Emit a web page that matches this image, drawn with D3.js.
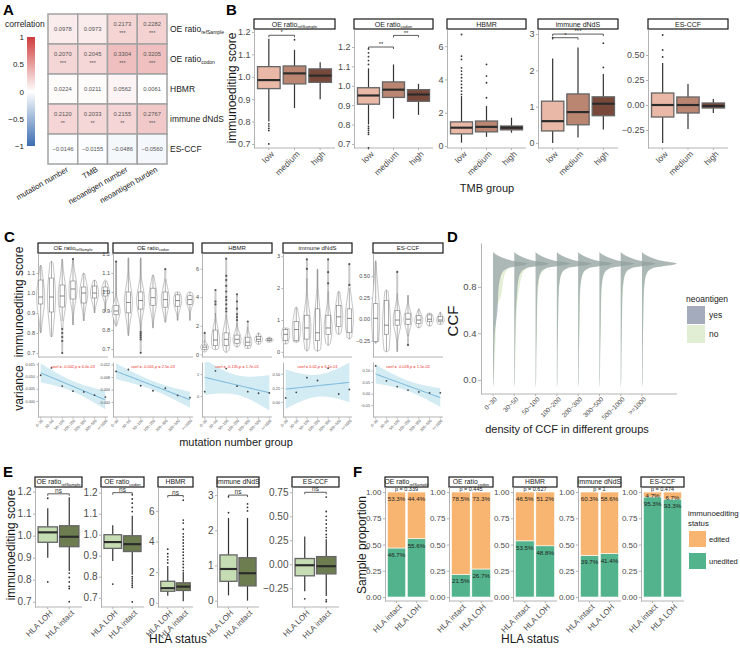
<!DOCTYPE html>
<html><head><meta charset="utf-8">
<script src="https://cdn.jsdelivr.net/npm/d3@7"></script>
<style>
body{margin:0;background:#fff}
svg{font-family:"Liberation Sans",Arial,Helvetica,sans-serif}
</style></head><body>
<svg id="fig" width="740" height="649"></svg>
<script>
// ---------------- data ----------------
// A: correlation heatmap
const corrCols = ["mutation number", "TMB", "neoantigen number", "neoantigen burden"]
const scoreLabels = [{t: "OE ratio", s: "refSample"}, {t: "OE ratio", s: "codon"}, {t: "HBMR"}, {t: "immune dNdS"}, {t: "ES-CCF"}]
const corrValues = [
    [0.0978, 0.0973, 0.2173, 0.2282],
    [0.2070, 0.2045, 0.3304, 0.3205],
    [0.0224, 0.0211, 0.0562, 0.0061],
    [0.2120, 0.2033, 0.2155, 0.2767],
    [-0.0146, -0.0155, -0.0486, -0.0560]]
const corrStars = [
    ["", "", "***", "***"],
    ["***", "***", "***", "***"],
    ["", "", "", ""],
    ["**", "**", "**", "***"],
    ["", "", "", ""]]
const corrTicks = [1, 0.5, 0, -0.5, -1]

// B: score by TMB group, [lo, q1, median, q3, hi]
const tmbGroups = ["low", "medium", "high"]
const tmbBoxes = [
    [[0.80, 0.947, 0.985, 1.045, 1.17], [0.86, 0.968, 1.015, 1.048, 1.12], [0.90, 0.975, 1.005, 1.035, 1.065]],
    [[0.80, 0.905, 0.95, 0.99, 1.09], [0.83, 0.94, 0.98, 1.02, 1.11], [0.85, 0.92, 0.955, 0.98, 1.01]],
    [[0.2, 0.73, 1.1, 1.45, 3.0], [0.55, 0.85, 1.15, 1.5, 2.4], [0.8, 0.97, 1.1, 1.2, 1.7]],
    [[0, 0.33, 0.6, 1.15, 2.33], [0.15, 0.5, 0.85, 1.35, 2.63], [0.37, 0.75, 1.08, 1.27, 1.9]],
    [[-0.38, -0.12, 0, 0.12, 0.42], [-0.24, -0.08, 0, 0.08, 0.21], [-0.08, -0.03, -0.01, 0.02, 0.06]]]
const tmbOutliers = [
    [[0.79, 0.78, 0.77, 0.76, 0.70], [1.165], []],
    [[0.79, 0.78, 0.77, 0.76, 0.75, 0.68, 1.11, 1.13, 1.15, 1.17, 1.19], [], []],
    [[3.1, 3.3, 3.5, 3.7, 3.9, 4.1, 4.3, 4.5, 4.7, 5.2, 5.4, 6.7], [2.9, 3.8, 4.2, 4.9], []],
    [[2.9], [], [2.08, 2.75]],
    [[0.48, 0.55, 0.7], [], []]]
const tmbDomains = [[0.682, 1.213], [0.679, 1.293], [-0.12, 7.03], [-0.14, 3.14], [-0.43, 0.76]]
const tmbTicks = [[0.7, 0.8, 0.9, 1.0, 1.1, 1.2], [0.7, 0.8, 0.9, 1.0, 1.1, 1.2], [0, 2, 4, 6], [0, 1, 2, 3], [-0.25, 0, 0.25, 0.5]]
const tmbSig = [[[0, 1, 1.185, "*"]], [[0, 1, 1.2, "**"], [1, 2, 1.26, "**"]], [], [[0, 1, 2.9, "*"], [0, 2, 3.0, "***"]], []]

// C: score by mutation number group, [violinMin, lo, q1, median, q3, hi, violinMax]
const mutGroups = ["0~30", "30~50", "50~100", "100~200", "200~300", "300~500", ">=1000"]
const mutStats = [
    [[.80, .80, .945, .98, 1.065, 1.14, 1.14], [.78, .78, .905, .98, 1.075, 1.16, 1.16], [.70, .86, .93, .985, 1.04, 1.17, 1.17],
     [.84, .84, .97, 1.02, 1.06, 1.17, 1.17], [.86, .86, .95, 1.0, 1.03, 1.10, 1.10], [.90, .90, .975, 1.0, 1.035, 1.065, 1.065], [.905, .905, .985, 1.01, 1.03, 1.06, 1.065]],
    [[.82, .82, .88, .90, .93, 1.16, 1.16], [.77, .77, .89, .945, 1.0, 1.18, 1.18], [.68, .80, .91, .955, 1.0, 1.18, 1.18],
     [.81, .81, .93, .97, 1.02, 1.09, 1.09], [.84, .84, .92, .96, 1.0, 1.07, 1.12], [.85, .85, .925, .955, .985, 1.0, 1.0], [.85, .85, .935, .96, .98, 1.0, 1.0]],
    [[.15, .2, .35, .5, .65, 1.0, 1.5], [.3, .35, .6, 1.0, 1.7, 2.9, 4.5], [.1, .15, .6, 1.05, 1.5, 2.8, 6.7],
     [.5, .5, .75, 1.05, 1.35, 2.2, 4.2], [.4, .4, .6, .85, 1.2, 1.9, 2.3], [.7, .7, .9, 1.05, 1.25, 1.5, 1.5], [.85, .85, .95, 1.0, 1.1, 1.2, 1.2]],
    [[.25, .25, .35, .55, .7, .75, .75], [.3, .3, .35, .7, .95, 1.4, 1.4], [.02, .02, .4, .75, 1.15, 2.3, 2.9],
     [.02, .02, .35, .6, 1.35, 2.6, 2.6], [.2, .2, .55, .75, 1.15, 1.9, 2.9], [.55, .55, .8, 1.1, 1.45, 1.9, 1.9], [.4, .4, .6, 1.05, 1.35, 2.0, 2.75]],
    [[-.28, -.28, -.26, .01, .18, .68, .68], [-.38, -.38, -.18, -.07, .22, .34, .34], [-.38, -.38, -.07, -.01, .10, .30, .55],
     [-.30, -.2, -.06, 0, .07, .28, .28], [-.1, -.1, -.05, -.01, .04, .12, .12], [-.08, -.08, -.03, 0, .05, .07, .07], [-.06, -.06, -.03, -.01, .03, .08, .08]]]
const mutOutliers = [
    [[], [], [.82, .80, .78, .76, .70], [1.17], [], [], []],
    [[1.16], [], [.79, .78, .77, .76, .75, .68], [], [1.12], [], []],
    [[1.5], [3.5, 3.7, 4.5], [3.0, 3.2, 3.5, 3.8, 4.0, 4.4, 4.8, 5.2, 5.5, 6.7], [2.4, 2.6, 2.8, 3.2, 3.7, 4.2], [2.3], [], []],
    [[], [], [2.6, 2.9], [], [2.15, 2.5, 2.9], [], [2.1, 2.75]],
    [[], [], [.55], [-.30], [], [], []]]
const mutDomains = [[0.68, 1.2], [0.658, 1.205], [-0.19, 7.1], [-0.16, 3.1], [-0.44, 0.77]]
const mutTicks = [[0.7, 0.8, 0.9, 1.0, 1.1], [0.7, 0.8, 0.9, 1.0, 1.1, 1.2], [0, 2, 4, 6], [0, 1, 2, 3], [-0.25, 0, 0.25, 0.5]]
const mutVariance = [
    [0.0105, 0.0135, 0.0061, 0.0040, 0.0037, 0.0024, 0.0016],
    [0.0098, 0.0104, 0.0052, 0.0036, 0.0044, 0.0021, 0.0014],
    [0.2, 1.15, 1.25, 0.45, 0.2, 0.13, 0.14],
    [0.07, 0.17, 0.43, 0.38, 0.6, 0.14, 0.22],
    [0.12, 0.055, 0.03, 0.015, 0.007, 0.003, 0.003]]
const varDomains = [[-0.0065, 0.0159], [-0.0048, 0.0128], [-0.95, 1.55], [-0.27, 0.71], [-0.102, 0.137]]
const varTicks = [[0, 0.005, 0.010, 0.015], [0, 0.004, 0.008, 0.012], [0, 1], [0, 0.25, 0.5], [-0.05, 0, 0.05, 0.10]]
const varText = ["coef = -0.002,p = 6.0e-03", "coef = -0.001,p = 2.5e-03", "coef = -0.135,p = 1.7e-01", "coef = 0.02,p = 6.1e-01", "coef = -0.018,p = 1.1e-02"]

// D: CCF density per group (relative width at each CCF value)
const ccfGroups = ["0~30", "30~50", "50~100", "100~200", "200~300", "300~500", "500~1000", ">=1000"]
const ccfGrid = [-0.07, 0, 0.2, 0.4, 0.6, 0.75, 0.85, 0.92, 0.96, 1.0, 1.025, 1.05, 1.075, 1.1]
const ccfYes = [
    [0, .015, .03, .05, .13, .15, .19, .26, .42, 1.0, .55, .28, .1, 0],
    [0, .015, .02, .03, .05, .08, .11, .18, .34, 1.0, .55, .28, .1, 0],
    [0, .015, .02, .03, .04, .05, .08, .14, .30, 1.0, .55, .28, .1, 0],
    [0, .015, .02, .03, .04, .05, .08, .14, .30, 1.0, .55, .28, .1, 0],
    [0, .015, .02, .03, .04, .05, .08, .14, .30, 1.0, .55, .28, .1, 0],
    [0, .015, .02, .03, .04, .05, .08, .14, .30, 1.0, .55, .28, .1, 0],
    [0, .015, .02, .03, .04, .05, .08, .14, .30, 1.0, .55, .28, .1, 0],
    [0, .015, .02, .03, .04, .05, .08, .14, .30, 1.0, .55, .28, .1, 0]]
const ccfNo = [
    [0, .02, .05, .08, .10, .25, .29, .35, .46, .95, .52, .27, .1, 0],
    [0, .015, .03, .05, .07, .12, .18, .25, .37, .96, .53, .27, .1, 0],
    [0, .015, .02, .04, .05, .07, .10, .17, .31, .97, .53, .27, .1, 0],
    [0, .015, .02, .03, .04, .06, .09, .15, .30, .97, .53, .27, .1, 0],
    [0, .015, .02, .04, .05, .06, .09, .16, .31, .97, .53, .27, .1, 0],
    [0, .015, .02, .04, .05, .06, .09, .16, .31, .97, .53, .27, .1, 0],
    [0, .015, .02, .03, .04, .06, .09, .16, .31, .97, .53, .27, .1, 0],
    [0, .015, .02, .03, .04, .06, .08, .15, .30, .97, .53, .27, .1, 0]]
const ccfTicks = [0, 0.4, 0.8]

// E: score by HLA status
const hlaGroupsE = ["HLA LOH", "HLA intact"]
const hlaBoxes = [
    [[0.90, 0.97, 1.015, 1.04, 1.125], [0.84, 0.95, 0.995, 1.045, 1.175]],
    [[0.875, 0.935, 0.965, 1.0, 1.045], [0.81, 0.92, 0.955, 0.995, 1.09]],
    [[0.45, 0.75, 0.95, 1.4, 2.4], [0.1, 0.8, 1.05, 1.3, 2.0]],
    [[0.15, 0.55, 0.9, 1.3, 2.35], [0.0, 0.42, 0.78, 1.22, 2.35]],
    [[-0.28, -0.12, -0.01, 0.06, 0.29], [-0.33, -0.1, -0.02, 0.08, 0.26]]]
const hlaOutliers = [
    [[0.79, 1.17], [0.83, 0.81, 0.79, 0.77, 0.76, 0.70]],
    [[0.765], [0.80, 0.79, 0.78, 0.77, 0.76, 0.75, 0.68, 1.11, 1.13, 1.15, 1.17, 1.19]],
    [[2.6, 2.8, 3.0, 3.2, 3.5], [2.1, 2.3, 2.5, 2.7, 2.9, 3.1, 3.3, 3.5, 3.7, 3.9, 4.1, 4.3, 4.5, 4.8, 5.2, 5.4, 6.7]],
    [[2.5, 2.95], [2.55, 2.65, 2.75]],
    [[-0.36], [0.28, 0.31, 0.35, 0.38, 0.42, 0.46, 0.5, 0.55, 0.7, -0.37, -0.39]]]
const hlaDomains = [[0.676, 1.221], [0.656, 1.227], [-0.28, 7.56], [-0.18, 3.23], [-0.445, 0.805]]
const hlaTicks = [[0.7, 0.8, 0.9, 1.0, 1.1, 1.2], [0.7, 0.8, 0.9, 1.0, 1.1, 1.2], [0, 2, 4, 6], [0, 1, 2, 3], [-0.25, 0, 0.25, 0.5, 0.75]]
const hlaSigY = [1.19, 1.2, 7.0, 3.0, 0.75]

// F: proportion edited / unedited
const hlaGroupsF = ["HLA intact", "HLA LOH"]
const uneditedPct = [[46.7, 55.6], [21.5, 26.7], [53.5, 48.8], [39.7, 41.4], [95.3, 93.3]]
const editedPct = [[53.3, 44.4], [78.5, 73.3], [46.5, 51.2], [60.3, 58.6], [4.7, 6.7]]
const fisherP = ["p = 0.339", "p = 0.445", "p = 0.627", "p = 1", "p = 0.474"]
const propTicks = [0, 0.25, 0.5, 0.75, 1]

// ---------------- helpers ----------------
const FF = '"Liberation Sans", Arial, Helvetica, sans-serif'
const AX = "#b3b3b3", TXT = "#4d4d4d"
const svg = d3.select("#fig")
const defs = svg.append("defs")

function panelLabel(x, y, t) {
    svg.append("text").attr("x", x).attr("y", y).attr("font-size", 15).attr("font-weight", "bold").text(t)
}
function addLabel(sel, lab, sub) {
    sel.append("tspan").text(lab.t)
    if (lab.s) sel.append("tspan").attr("font-size", sub).attr("dy", sub * 0.35).text(lab.s)
}
function strip(x0, x1, y0, y1, lab, fs) {
    svg.append("rect").attr("x", x0).attr("y", y0).attr("width", x1 - x0).attr("height", y1 - y0)
        .attr("fill", "#fff").attr("stroke", "#1a1a1a").attr("stroke-width", 1.2)
    const t = svg.append("text").attr("x", (x0 + x1) / 2).attr("y", (y0 + y1) / 2 + fs * 0.36)
        .attr("text-anchor", "middle").attr("font-size", fs).attr("fill", "#1a1a1a")
    addLabel(t, lab, fs * 0.62)
}
function yAxis(x, y, ticks, fmt, fs, len) {
    const g = svg.append("g").attr("transform", `translate(${x},0)`)
        .call(d3.axisLeft(y).tickValues(ticks).tickFormat(fmt).tickSize(len).tickPadding(1.5).tickSizeOuter(0))
    g.attr("font-family", FF)
    g.select(".domain").attr("stroke", AX)
    g.selectAll(".tick line").attr("stroke", AX)
    g.selectAll(".tick text").attr("fill", TXT).attr("font-size", fs)
    return g
}
function xAxisRot(x0, x1, yPos, centers, labels, fs, len) {
    svg.append("line").attr("x1", x0).attr("x2", x1).attr("y1", yPos).attr("y2", yPos).attr("stroke", AX)
    labels.forEach((d, i) => {
        const cx = centers[i]
        svg.append("line").attr("x1", cx).attr("x2", cx).attr("y1", yPos).attr("y2", yPos + len).attr("stroke", AX)
        svg.append("text").attr("transform", `translate(${cx + fs * 0.25},${yPos + len + 1}) rotate(-45)`)
            .attr("text-anchor", "end").attr("dy", "0.6em").attr("font-size", fs).attr("fill", TXT).text(d)
    })
}
function boxplot(cx, w, st, out, y, fill, lw) {
    const [lo, q1, med, q3, hi] = st
    svg.append("line").attr("x1", cx).attr("x2", cx).attr("y1", y(lo)).attr("y2", y(q1)).attr("stroke", "#333").attr("stroke-width", lw)
    svg.append("line").attr("x1", cx).attr("x2", cx).attr("y1", y(q3)).attr("y2", y(hi)).attr("stroke", "#333").attr("stroke-width", lw)
    svg.append("rect").attr("x", cx - w / 2).attr("y", y(q3)).attr("width", w).attr("height", y(q1) - y(q3))
        .attr("fill", fill).attr("stroke", "#666").attr("stroke-width", lw * 1.1)
    svg.append("line").attr("x1", cx - w / 2).attr("x2", cx + w / 2).attr("y1", y(med)).attr("y2", y(med))
        .attr("stroke", "#2b2b2b").attr("stroke-width", lw * 1.8)
    out.forEach(v => svg.append("circle").attr("cx", cx).attr("cy", y(v)).attr("r", 0.9).attr("fill", "#333"))
}
function bracket(xa, xb, yp, txt, fs) {
    svg.append("path").attr("d", `M${xa},${yp + 2}V${yp}H${xb}V${yp + 2}`).attr("fill", "none").attr("stroke", "#333").attr("stroke-width", 0.8)
    svg.append("text").attr("x", (xa + xb) / 2).attr("y", yp - 0.8).attr("text-anchor", "middle").attr("font-size", fs).attr("fill", "#333").text(txt)
}
function yTitle(x, y, t, fs) {
    svg.append("text").attr("transform", `translate(${x},${y}) rotate(-90)`).attr("text-anchor", "middle").attr("font-size", fs).attr("fill", "#1a1a1a").text(t)
}
function xTitle(x, y, t, fs) {
    svg.append("text").attr("x", x).attr("y", y).attr("text-anchor", "middle").attr("font-size", fs).attr("fill", "#1a1a1a").text(t)
}

// ---------------- A ----------------
panelLabel(3, 15, "A")
const ax = d3.scaleBand().domain(corrCols).range([48, 167])
const ay = d3.scaleBand().domain(d3.range(scoreLabels.length)).range([14, 164])
const corrColor = d3.scaleLinear().domain([-1, 0, 1]).range(["#3b6db0", "#ffffff", "#cf3b3b"])
corrValues.forEach((row, i) => row.forEach((v, j) => {
    const x = ax(corrCols[j]), y = ay(i), cx = x + ax.bandwidth() / 2, cy = y + ay.bandwidth() / 2
    svg.append("rect").attr("x", x).attr("y", y).attr("width", ax.bandwidth()).attr("height", ay.bandwidth())
        .attr("fill", corrColor(v)).attr("stroke", "#a3a3a3").attr("stroke-width", 1.5)
    svg.append("text").attr("x", cx).attr("y", corrStars[i][j] ? cy - 3 : cy + 2).attr("text-anchor", "middle")
        .attr("font-size", 5.8).attr("fill", "#555").text(d3.format(".4f")(v))
    if (corrStars[i][j]) svg.append("text").attr("x", cx).attr("y", cy + 6).attr("text-anchor", "middle")
        .attr("font-size", 5.5).attr("fill", "#555").text(corrStars[i][j])
}))
scoreLabels.forEach((lab, i) => {
    const t = svg.append("text").attr("x", 170).attr("y", ay(i) + ay.bandwidth() / 2 + 3).attr("font-size", 8.5).attr("fill", "#1a1a1a")
    addLabel(t, lab, 5)
})
corrCols.forEach(c => {
    svg.append("text").attr("transform", `translate(${ax(c) + ax.bandwidth() / 2 + 6},171) rotate(-30)`)
        .attr("text-anchor", "end").attr("font-size", 7.8).attr("fill", "#1a1a1a").text(c)
})
const grad = defs.append("linearGradient").attr("id", "cbar").attr("x1", 0).attr("x2", 0).attr("y1", 0).attr("y2", 1)
;[1, 0.5, 0, -0.5, -1].forEach((v, i) => grad.append("stop").attr("offset", `${i * 25}%`).attr("stop-color", corrColor(v)))
const cbY = d3.scaleLinear().domain([-1, 1]).range([146, 37])
svg.append("rect").attr("x", 27).attr("y", 37).attr("width", 8).attr("height", 109).attr("fill", "url(#cbar)")
corrTicks.forEach(v => svg.append("text").attr("x", 24).attr("y", cbY(v) + 3).attr("text-anchor", "end")
    .attr("font-size", 8).attr("fill", "#1a1a1a").text(d3.format("")(v)))
svg.append("text").attr("x", 5).attr("y", 27).attr("font-size", 8.5).attr("fill", "#1a1a1a").text("correlation")

// ---------------- B ----------------
panelLabel(226, 15, "B")
const bPanels = [[254, 335], [354, 433], [447, 526], [538, 618], [648, 728]]
const bFmt = [d3.format(".1f"), d3.format(".1f"), d3.format("d"), d3.format("d"), d3.format(".2f")]
const tmbFill = ["#e9b8a7", "#ba8571", "#78493a"]
bPanels.forEach(([x0, x1], i) => {
    strip(x0, x1, 19, 29, scoreLabels[i], 7)
    const y = d3.scaleLinear().domain(tmbDomains[i]).range([148, 29])
    const x = d3.scaleBand().domain(tmbGroups).range([x0 + 2, x1 - 2]).paddingInner(0.12).paddingOuter(0.06)
    yAxis(x0, y, tmbTicks[i], bFmt[i], 9, 2)
    const centers = tmbGroups.map(g => x(g) + x.bandwidth() / 2)
    xAxisRot(x0, x1, 148, centers, tmbGroups, 8.5, 2)
    tmbGroups.forEach((g, k) => boxplot(centers[k], x.bandwidth(), tmbBoxes[i][k], tmbOutliers[i][k], y, tmbFill[k], 1.2))
    tmbSig[i].forEach(([a, b, v, t]) => bracket(centers[a], centers[b], y(v), t, 6))
})
yTitle(236, 88, "immunoediting score", 12)
xTitle(487, 192, "TMB group", 11)

// ---------------- C ----------------
panelLabel(4, 242, "C")
const cPanels = [[38, 108], [113, 193], [202, 272], [283, 352], [373, 443]]
const cFmt = [d3.format(".1f"), d3.format(".1f"), d3.format("d"), d3.format("d"), d3.format(".2f")]
const vFmt = [d3.format(".3f"), d3.format(".3f"), d3.format("d"), d3.format(".2f"), d3.format(".2f")]
cPanels.forEach(([x0, x1], i) => {
    strip(x0, x1, 243, 253, scoreLabels[i], 6)
    const y = d3.scaleLinear().domain(mutDomains[i]).range([357, 253])
    const x = d3.scalePoint().domain(mutGroups).range([x0, x1]).padding(0.25)
    yAxis(x0, y, mutTicks[i], cFmt[i], 5.5, 1.5)
    svg.append("line").attr("x1", x0).attr("x2", x1).attr("y1", 357).attr("y2", 357).attr("stroke", AX)
    mutGroups.forEach((g, k) => {
        const [vmin, lo, q1, med, q3, hi, vmax] = mutStats[i][k]
        const cx = x(g)
        const sd = Math.max((q3 - q1) / 1.35, (vmax - vmin) / 8)
        const pts = d3.range(41).map(j => {
            const v = vmin + (vmax - vmin) * j / 40
            const d = (j === 0 || j === 40) ? 0 : Math.max(0.12, Math.exp(-0.5 * ((v - med) / sd) ** 2))
            return [v, d]
        })
        const area = d3.area().y(p => y(p[0])).x0(p => cx - 4.0 * p[1]).x1(p => cx + 4.0 * p[1]).curve(d3.curveCatmullRom)
        svg.append("path").attr("d", area(pts)).attr("fill", "#fff").attr("stroke", "#9a9a9a").attr("stroke-width", 0.6)
        svg.append("line").attr("x1", cx).attr("x2", cx).attr("y1", y(lo)).attr("y2", y(q1)).attr("stroke", "#777").attr("stroke-width", 0.6)
        svg.append("line").attr("x1", cx).attr("x2", cx).attr("y1", y(q3)).attr("y2", y(hi)).attr("stroke", "#777").attr("stroke-width", 0.6)
        svg.append("rect").attr("x", cx - 2.2).attr("y", y(q3)).attr("width", 4.4).attr("height", y(q1) - y(q3))
            .attr("fill", "none").attr("stroke", "#777").attr("stroke-width", 0.6)
        svg.append("line").attr("x1", cx - 2.2).attr("x2", cx + 2.2).attr("y1", y(med)).attr("y2", y(med)).attr("stroke", "#555").attr("stroke-width", 0.7)
        mutOutliers[i][k].forEach(v => svg.append("circle").attr("cx", cx).attr("cy", y(v)).attr("r", 1.1).attr("fill", "#555"))
    })

    // variance panel with linear fit and 95% band
    const yv = d3.scaleLinear().domain(varDomains[i]).range([417, 362])
    yAxis(x0, yv, varTicks[i], vFmt[i], 3.8, 1.5)
    const vals = mutVariance[i], n = vals.length
    const xs = d3.range(1, n + 1), xm = d3.mean(xs), ym = d3.mean(vals)
    const sxx = d3.sum(xs, t => (t - xm) ** 2)
    const b = d3.sum(xs, (t, k) => (t - xm) * (vals[k] - ym)) / sxx, a = ym - b * xm
    const s = Math.sqrt(d3.sum(xs, (t, k) => (vals[k] - a - b * t) ** 2) / (n - 2))
    const px = t => x(mutGroups[0]) + (t - 1) * x.step()
    const band = d3.range(1, n + 0.001, 0.1).map(t => {
        const f = a + b * t, se = s * Math.sqrt(1 / n + (t - xm) ** 2 / sxx)
        return [t, f - 2.571 * se, f + 2.571 * se, f]
    })
    defs.append("clipPath").attr("id", "cv" + i).append("rect").attr("x", x0).attr("y", 362).attr("width", x1 - x0).attr("height", 55)
    const gv = svg.append("g").attr("clip-path", `url(#cv${i})`)
    gv.append("path").attr("d", d3.area().x(p => px(p[0])).y0(p => yv(p[1])).y1(p => yv(p[2]))(band)).attr("fill", "#d3ebf3")
    gv.append("path").attr("d", d3.line().x(p => px(p[0])).y(p => yv(p[3]))(band)).attr("fill", "none").attr("stroke", "#6aaed6").attr("stroke-width", 0.9)
    vals.forEach((v, k) => svg.append("circle").attr("cx", x(mutGroups[k])).attr("cy", yv(v)).attr("r", 0.9).attr("fill", "#444"))
    svg.append("text").attr("x", (x0 + x1) / 2).attr("y", 368).attr("text-anchor", "middle").attr("font-size", 3.9)
        .attr("fill", "#e8322b").text(varText[i])
    xAxisRot(x0, x1, 417, mutGroups.map(g => x(g)), mutGroups, 3.8, 1.5)
})
yTitle(23, 302, "immunoediting score", 12)
yTitle(23, 388, "variance", 12)
xTitle(236, 446, "mutation number group", 11)

// ---------------- D ----------------
panelLabel(447, 242, "D")
const dX = d3.scalePoint().domain(ccfGroups).range([493, 642])
const dY = d3.scaleLinear().domain([-0.1215, 1.177]).range([394, 243])
const dW = d3.scaleLinear().domain([0, 1]).range([0, 35])
const gD = svg.append("g")
ccfGroups.forEach((g, k) => {
    const cx = dX(g)
    const area = d3.area().y(p => dY(p[0])).x0(cx).x1(p => cx + dW(p[1])).curve(d3.curveMonotoneY)
    gD.append("path").attr("d", area(ccfGrid.map((c, j) => [c, ccfNo[k][j]]))).attr("fill", "#cfe3b5").attr("fill-opacity", 0.55)
    gD.append("path").attr("d", area(ccfGrid.map((c, j) => [c, ccfYes[k][j]]))).attr("fill", "#66738f").attr("fill-opacity", 0.45)
})
yAxis(481, dY, ccfTicks, d3.format(".1f"), 9.5, 3)
xAxisRot(481, 677, 394, ccfGroups.map(g => dX(g)), ccfGroups, 6.5, 2)
yTitle(458, 321, "CCF", 15)
xTitle(567, 433, "density of CCF in different groups", 11)
svg.append("text").attr("x", 686).attr("y", 302).attr("font-size", 8.5).attr("fill", "#1a1a1a").text("neoantigen")
;[["yes", "#66738f"], ["no", "#cfe3b5"]].forEach(([t, c], k) => {
    svg.append("rect").attr("x", 687).attr("y", 306 + k * 19).attr("width", 18).attr("height", 18).attr("fill", c).attr("fill-opacity", 0.6)
    svg.append("text").attr("x", 709).attr("y", 318 + k * 19).attr("font-size", 8.5).attr("fill", "#1a1a1a").text(t)
})

// ---------------- E ----------------
panelLabel(3, 477, "E")
const ePanels = [[35, 82], [101, 144], [158, 193], [217, 259], [292, 339]]
const eFmt = [d3.format(".1f"), d3.format(".1f"), d3.format("d"), d3.format("d"), d3.format(".2f")]
const hlaFill = ["#c6ddb3", "#6d7d50"]
ePanels.forEach(([x0, x1], i) => {
    strip(x0, x1, 477, 487, scoreLabels[i], 6.8)
    const y = d3.scaleLinear().domain(hlaDomains[i]).range([607, 487])
    const x = d3.scaleBand().domain(hlaGroupsE).range([x0 + 2, x1 - 2]).paddingInner(0.1).paddingOuter(0.05)
    yAxis(x0, y, hlaTicks[i], eFmt[i], 10, 2)
    const centers = hlaGroupsE.map(g => x(g) + x.bandwidth() / 2)
    xAxisRot(x0, x1, 607, centers, hlaGroupsE, 8, 2)
    hlaGroupsE.forEach((g, k) => boxplot(centers[k], x.bandwidth(), hlaBoxes[i][k], hlaOutliers[i][k], y, hlaFill[k], 1.2))
    bracket(centers[0], centers[1], y(hlaSigY[i]), "ns", 6.5)
})
yTitle(15, 545, "immunoediting score", 12)
xTitle(178, 643, "HLA status", 12)

// ---------------- F ----------------
panelLabel(353, 477, "F")
const fPanels = [[385, 428], [449, 493], [513, 557], [578, 621], [641, 684]]
const fy = d3.scaleLinear().domain([-0.038, 1.048]).range([601, 487])
fPanels.forEach(([x0, x1], i) => {
    strip(x0, x1, 477, 487, scoreLabels[i], 6.8)
    const x = d3.scaleBand().domain(hlaGroupsF).range([x0 + 2, x1 - 2]).paddingInner(0.08).paddingOuter(0.02)
    yAxis(x0, fy, propTicks, d3.format(".2f"), 8, 2)
    const centers = hlaGroupsF.map(g => x(g) + x.bandwidth() / 2)
    xAxisRot(x0, x1, 601, centers, hlaGroupsF, 8, 2)
    hlaGroupsF.forEach((g, k) => {
        const u = uneditedPct[i][k] / 100, e = editedPct[i][k] / 100
        svg.append("rect").attr("x", x(g)).attr("y", fy(u)).attr("width", x.bandwidth()).attr("height", fy(0) - fy(u))
            .attr("fill", "#53b38c").attr("stroke", "#fff").attr("stroke-width", 0.6)
        svg.append("rect").attr("x", x(g)).attr("y", fy(1)).attr("width", x.bandwidth()).attr("height", fy(u) - fy(1))
            .attr("fill", "#f8b571").attr("stroke", "#fff").attr("stroke-width", 0.6)
        svg.append("text").attr("x", centers[k]).attr("y", fy(1 - Math.min(0.06, e * 0.75)) + 2.2).attr("text-anchor", "middle")
            .attr("font-size", 6.2).attr("fill", "#222").text(d3.format(".1f")(editedPct[i][k]) + "%")
        svg.append("text").attr("x", centers[k]).attr("y", fy(u - 0.065) + 2.2).attr("text-anchor", "middle")
            .attr("font-size", 6.2).attr("fill", "#222").text(d3.format(".1f")(uneditedPct[i][k]) + "%")
    })
    svg.append("text").attr("x", (x0 + x1) / 2).attr("y", 490.5).attr("text-anchor", "middle").attr("font-size", 5.5).attr("fill", "#222").text(fisherP[i])
})
yTitle(366, 545, "Sample proportion", 12)
xTitle(530, 643, "HLA status", 12)
svg.append("text").attr("x", 688).attr("y", 516).attr("font-size", 7.8).attr("fill", "#1a1a1a").text("immunoediting")
svg.append("text").attr("x", 688).attr("y", 526).attr("font-size", 7.8).attr("fill", "#1a1a1a").text("status")
;[["edited", "#f8b571"], ["unedited", "#53b38c"]].forEach(([t, c], k) => {
    svg.append("rect").attr("x", 689).attr("y", 531 + k * 22).attr("width", 17).attr("height", 16).attr("fill", c)
    svg.append("text").attr("x", 709).attr("y", 542 + k * 22).attr("font-size", 7.5).attr("fill", "#1a1a1a").text(t)
})
</script></body></html>
